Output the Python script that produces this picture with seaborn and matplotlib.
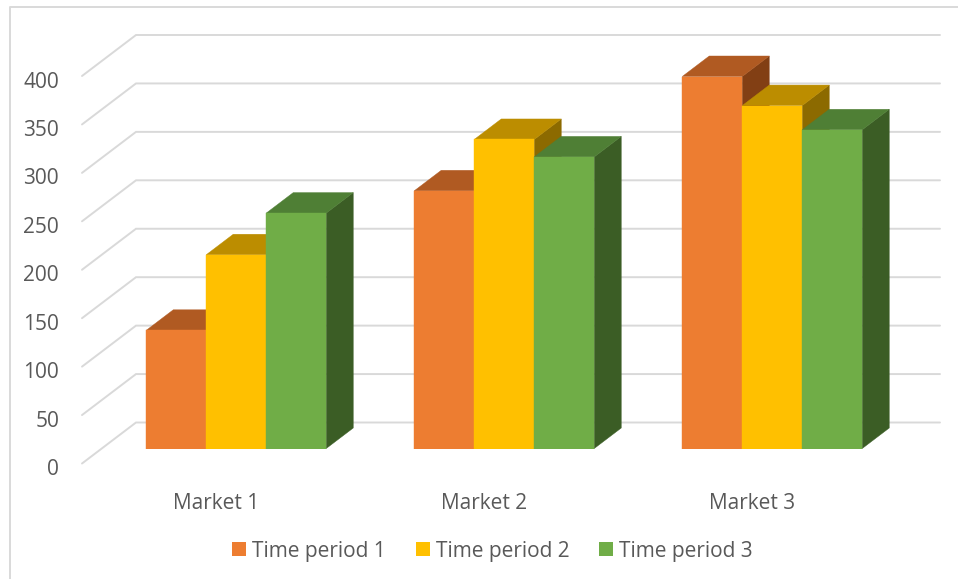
import matplotlib
matplotlib.use("Agg")
import matplotlib.pyplot as plt
import matplotlib.transforms as mtrans
from matplotlib.lines import Line2D
from matplotlib.patches import Polygon, Patch
import pandas as pd
import seaborn as sns

markets = ["Market 1", "Market 2", "Market 3"]
period_names = ["Time period 1", "Time period 2", "Time period 3"]
period_1 = [122, 266, 384]
period_2 = [200, 319, 354]
period_3 = [243, 301, 329]
axis_ticks = [0, 50, 100, 150, 200, 250, 300, 350, 400]

front_colors = ["#ED7D31", "#FFC000", "#70AD47"]
top_colors = ["#B05A22", "#BC8D00", "#4F7F35"]
side_colors = ["#823F14", "#8C6A00", "#3B5D25"]
GRID = "#D9D9D9"
TEXT = "#595959"
FONT_SIZE = 15

W, H = 958, 579
sns.set_theme(style="white")
plt.rcParams["font.family"] = ["Open Sans", "DejaVu Sans"]

fig = plt.figure(figsize=(W / 100, H / 100), dpi=100, facecolor="white")


def axes_rect(left, right, top, bottom):
    return [left / W, 1 - bottom / H, (right - left) / W, (bottom - top) / H]


# Outer frame of the chart area: only its left and top edges fall inside the canvas
fig.add_artist(Line2D([9.5 / W, 9.5 / W, 1], [0, 1 - 6.5 / H, 1 - 6.5 / H], color=GRID, lw=1.4))

# Wall axes: value ticks and the receding grid lines
wall = fig.add_axes(axes_rect(82, 940, 76, 463.5))
wall.set_xlim(82, 940)
wall.set_ylim(0, 400)
px_per_unit = 387.5 / 400
wall_rise = 41 / px_per_unit
for v in axis_ticks:
    wall.plot([82, 136, 940], [v, v + wall_rise, v + wall_rise], color=GRID, lw=1.4,
              clip_on=False, zorder=1, solid_joinstyle="miter")
wall.set_xticks([])
wall.set_yticks(axis_ticks)
wall.set_yticklabels([str(v) for v in axis_ticks], fontsize=FONT_SIZE, color=TEXT)
wall.tick_params(axis="y", length=0, pad=16.5)
label_shift = mtrans.ScaledTranslation(0, -3.5 / 100, fig.dpi_scale_trans)
for lab in wall.get_yticklabels():
    lab.set_transform(lab.get_transform() + label_shift)
sns.despine(ax=wall, left=True, bottom=True)
wall.patch.set_alpha(0)

# Bar axes: floor of the bars sits above the front edge of the wall ticks
bars = fig.add_axes(axes_rect(82, 940, 61, 448.5))
bars.patch.set_alpha(0)
frame = pd.DataFrame({
    "market": markets * 3,
    "period": [p for p in period_names for _ in markets],
    "value": period_1 + period_2 + period_3,
})
sns.barplot(data=frame, x="market", y="value", hue="period", order=markets, hue_order=period_names,
            palette=front_colors, width=180 / 268, gap=0, legend=False, ax=bars,
            linewidth=0, saturation=1, zorder=5)
group_unit = 268
bars.set_xlim((82 - 236.25) / group_unit, (940 - 236.25) / group_unit)
bars.set_ylim(0, 400)
bars.set_xlabel("")
bars.set_ylabel("")
bars.set_yticks([])
bars.set_xticks(range(len(markets)))
bars.set_xticklabels(markets, fontsize=FONT_SIZE, color=TEXT)
bars.tick_params(axis="x", length=0, pad=32)
cat_shift = mtrans.ScaledTranslation(-20.5 / 100, 0, fig.dpi_scale_trans)
for lab in bars.get_xticklabels():
    lab.set_transform(lab.get_transform() + cat_shift)
sns.despine(ax=bars, left=True, bottom=True)

# Extrude each front face backwards into a top and a side panel, left to right
dx = 27 / group_unit
dy = 20.5 / px_per_unit
z = 5
for g in range(len(markets)):
    for c, container in enumerate(bars.containers):
        rect = container[g]
        x0, w, h = rect.get_x(), rect.get_width(), rect.get_height()
        x1 = x0 + w
        side = Polygon([(x1, 0), (x1 + dx, dy), (x1 + dx, h + dy), (x1, h)],
                       facecolor=side_colors[c], edgecolor=side_colors[c], lw=0.3, zorder=z, clip_on=False)
        top = Polygon([(x0, h), (x0 + dx, h + dy), (x1 + dx, h + dy), (x1, h)],
                      facecolor=top_colors[c], edgecolor=top_colors[c], lw=0.3, zorder=z + 0.1, clip_on=False)
        bars.add_patch(side)
        bars.add_patch(top)
        rect.set_edgecolor(front_colors[c])
        rect.set_linewidth(0.3)
        rect.set_zorder(z + 0.2)
        z += 1

# Legend row along the bottom
handles = [Patch(facecolor=col, edgecolor="none", label=name) for col, name in zip(front_colors, period_names)]
fig.legend(handles=handles, loc="center", bbox_to_anchor=(492.5 / W, 1 - 551 / H), ncol=3, frameon=False,
           fontsize=FONT_SIZE, labelcolor=TEXT, handlelength=0.67, handleheight=0.67,
           handletextpad=0.29, columnspacing=1.44, borderpad=0)

fig.savefig("out.png", dpi=100)
